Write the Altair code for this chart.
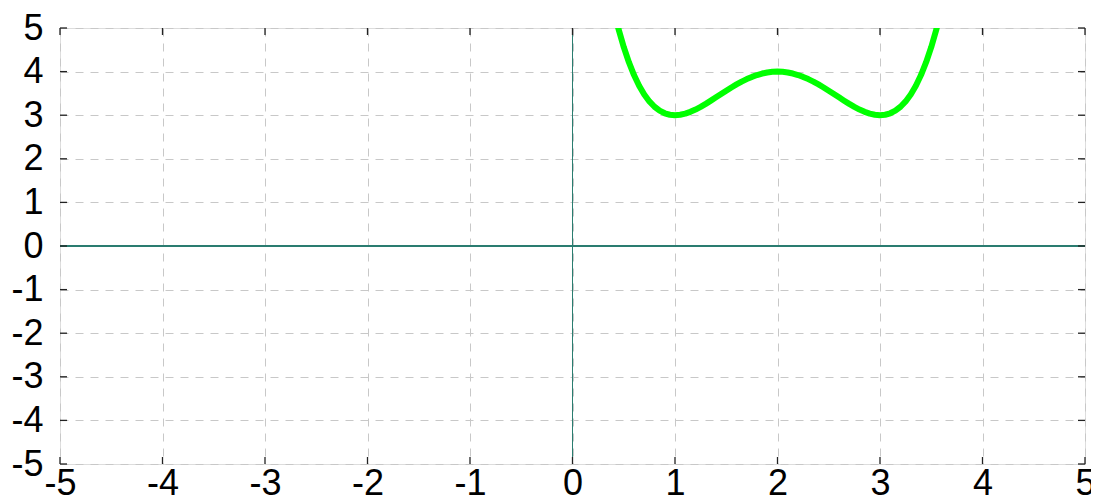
import altair as alt
import pandas as pd

# values
curve_x = [0.40, 0.45, 0.50, 0.55, 0.60, 0.65, 0.70, 0.75, 0.80, 0.85, 0.90, 0.95,
           1.00, 1.05, 1.10, 1.15, 1.20, 1.25, 1.30, 1.35, 1.40, 1.45, 1.50, 1.55,
           1.60, 1.65, 1.70, 1.75, 1.80, 1.85, 1.90, 1.95, 2.00, 2.05, 2.10, 2.15,
           2.20, 2.25, 2.30, 2.35, 2.40, 2.45, 2.50, 2.55, 2.60, 2.65, 2.70, 2.75,
           2.80, 2.85, 2.90, 2.95, 3.00, 3.05, 3.10, 3.15, 3.20, 3.25, 3.30, 3.35,
           3.40, 3.45, 3.50, 3.55, 3.60]
curve_y = [5.434, 4.967, 4.5625, 4.2155, 3.9216, 3.6765, 3.4761, 3.3164, 3.1936, 3.1040, 3.0441, 3.0105,
           3.0, 3.0095, 3.0361, 3.0770, 3.1296, 3.1914, 3.2601, 3.3335, 3.4096, 3.4865, 3.5625, 3.6360,
           3.7056, 3.7700, 3.8281, 3.8789, 3.9216, 3.9555, 3.9801, 3.9950, 4.0, 3.9950, 3.9801, 3.9555,
           3.9216, 3.8789, 3.8281, 3.7700, 3.7056, 3.6360, 3.5625, 3.4865, 3.4096, 3.3335, 3.2601, 3.1914,
           3.1296, 3.0770, 3.0361, 3.0095, 3.0, 3.0105, 3.0441, 3.1040, 3.1936, 3.3164, 3.4761, 3.6765,
           3.9216, 4.2155, 4.5625, 4.967, 5.434]
tick_values = [-5, -4, -3, -2, -1, 0, 1, 2, 3, 4, 5]

W, H = 1025, 436
FONT = "Liberation Sans"
FS = 36

curve_df = pd.DataFrame({"x": curve_x, "y": curve_y})
ticks_df = pd.DataFrame({"v": tick_values})

xs = alt.Scale(domain=[-5, 5], nice=False, zero=False)
ys = alt.Scale(domain=[-5, 5], nice=False, zero=False)

common = dict(values=tick_values, grid=True, gridDash=[8, 7], gridColor="#c8c8c8",
              gridWidth=1, ticks=False, domain=False, labelFontSize=FS, labelFont=FONT,
              labelColor="#000", labelFlush=False, labelBound=False, labelOverlap=False,
              title=None)
x_axis = alt.Axis(labelPadding=30, labelBaseline="alphabetic",
                  labelExpr="datum.value < 0 ? '-' + abs(datum.value) : '\u00a0' + datum.value",
                  **common)
y_axis = alt.Axis(labelPadding=17,
                  labelExpr="datum.value < 0 ? '-' + abs(datum.value) : '' + datum.value",
                  **common)

base_grid = alt.Chart(ticks_df).mark_point(opacity=0).encode(
    x=alt.X("v:Q", scale=xs, axis=x_axis),
    y=alt.Y("v:Q", scale=ys, axis=y_axis),
)

zero_v = alt.Chart(ticks_df).mark_rule(color="#2a7d70", strokeWidth=1).encode(
    x=alt.datum(0, scale=xs)
)
zero_h = alt.Chart(ticks_df).mark_rule(color="#2a7d70", strokeWidth=1).encode(
    y=alt.datum(0, scale=ys)
)

curve = alt.Chart(curve_df).mark_line(color="#00ff00", strokeWidth=6, clip=True,
                                      strokeCap="round", strokeJoin="round").encode(
    x=alt.X("x:Q", scale=xs),
    y=alt.Y("y:Q", scale=ys),
)

TL = 7
tick_style = dict(color="#222", strokeWidth=1.3)
bottom_ticks = alt.Chart(ticks_df).mark_rule(**tick_style).encode(
    x=alt.X("v:Q", scale=xs), y=alt.value(H - TL), y2=alt.value(H))
top_ticks = alt.Chart(ticks_df).mark_rule(**tick_style).encode(
    x=alt.X("v:Q", scale=xs), y=alt.value(0), y2=alt.value(TL))
left_ticks = alt.Chart(ticks_df).mark_rule(**tick_style).encode(
    y=alt.Y("v:Q", scale=ys), x=alt.value(0), x2=alt.value(TL))
right_ticks = alt.Chart(ticks_df).mark_rule(**tick_style).encode(
    y=alt.Y("v:Q", scale=ys), x=alt.value(W - TL), x2=alt.value(W))

chart = alt.layer(base_grid, zero_v, zero_h, curve, bottom_ticks, top_ticks,
                  left_ticks, right_ticks).properties(
    width=W, height=H,
    autosize=alt.AutoSizeParams(type="none"),
    padding={"left": 52, "top": 20, "right": 6, "bottom": 34},
).configure_view(stroke="#1a1a1a", strokeWidth=1.5).configure(background="white")

chart.save("out.html", embed_options={"renderer": "svg", "actions": False})
